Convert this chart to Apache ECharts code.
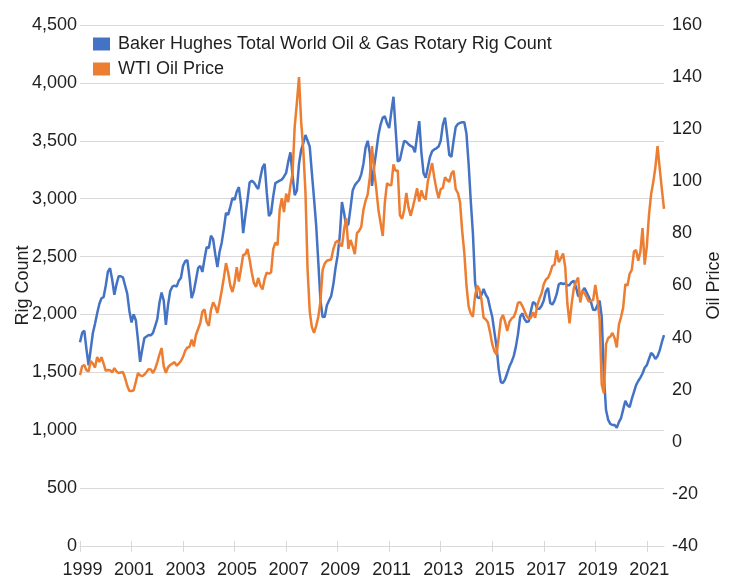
<!DOCTYPE html>
<html>
<head>
<meta charset="utf-8">
<script src="https://cdn.jsdelivr.net/npm/echarts@6/dist/echarts.min.js"></script>
<style>
    html, body { margin: 0; padding: 0; background: #fff; }
    #chart { width: 734px; height: 577px; }
</style>
</head>
<body>
<div id="chart"></div>
<script>
// monthly categories, Jan 1999 .. Sep 2021
const startYear = 1999
const monthCount = 273
const months = []
for (let i = 0; i < monthCount; i++) {
    const y = startYear + Math.floor(i / 12)
    const m = (i % 12) + 1
    months.push(y + "-" + (m < 10 ? "0" + m : m))
}

// Baker Hughes total world rig count (left axis)
const rigCount = [
    1760, 1840, 1860, 1700, 1560, 1700, 1840, 1920, 2010, 2090, 2140, 2150,
    2250, 2370, 2400, 2300, 2170, 2260, 2330, 2330, 2320, 2250, 2180, 2030,
    1930, 2000, 1950, 1780, 1590, 1700, 1796, 1810, 1822, 1820, 1840, 1900,
    1960, 2100, 2190, 2120, 1909, 2080, 2200, 2240, 2250, 2240, 2290, 2315,
    2420, 2460, 2470, 2320, 2140, 2200, 2297, 2400, 2420, 2367, 2480, 2582,
    2574, 2680, 2650, 2520, 2410, 2540, 2620, 2740, 2876, 2860, 2930, 3006,
    2990, 3060, 3100, 2950, 2703, 2850, 2988, 3140, 3155, 3140, 3110, 3083,
    3180, 3270, 3300, 3050, 2850, 2876, 3020, 3135, 3145, 3155, 3165, 3190,
    3222, 3320, 3400, 3200, 3030, 3070, 3300, 3420, 3480, 3550, 3500, 3450,
    3220, 3000, 2770, 2450, 2120, 1978, 1980, 2080, 2120, 2160, 2260, 2400,
    2510, 2680, 2971, 2876, 2760, 2780, 2920, 3070, 3115, 3140, 3161, 3210,
    3300, 3440, 3500, 3390, 3110, 3280, 3410, 3550, 3640, 3700, 3710, 3650,
    3610, 3750, 3880, 3600, 3320, 3334, 3420, 3500, 3490, 3470, 3455, 3446,
    3400, 3540, 3670, 3400, 3220, 3180, 3270, 3360, 3410, 3425, 3435, 3450,
    3500, 3640, 3700, 3550, 3377, 3362, 3500, 3620, 3645, 3655, 3660, 3660,
    3560, 3300, 2980, 2700, 2280, 2150, 2140, 2170, 2220, 2170, 2140, 2056,
    1980, 1850, 1720, 1530, 1416, 1408, 1440, 1494, 1550, 1590, 1640, 1720,
    1830, 1978, 2010, 1960, 1935, 1940, 2030, 2107, 2095, 2050, 2050, 2075,
    2120, 2200, 2230, 2099, 2085, 2120, 2175, 2260, 2270, 2263, 2268, 2250,
    2255, 2280, 2290, 2237, 2160, 2160, 2200, 2228, 2190, 2150, 2107, 2040,
    2038, 2080, 2120, 1980, 1470, 1175, 1090, 1055, 1045, 1045, 1022, 1070,
    1105, 1180, 1255, 1215, 1200, 1270, 1330, 1390, 1425, 1455, 1490, 1540,
    1562, 1615, 1667, 1650, 1615, 1640, 1690, 1760, 1822
]

// WTI oil price (right axis)
const oilPrice = [
    25.6, 29, 29.5, 27.5, 27, 31, 30, 28.5, 32.6, 30.6, 32.5, 30,
    27.2, 27.6, 27.5, 26.6, 28.3, 27, 26.4, 26.6, 26.8, 24.5, 21.5, 19.5,
    19.5, 19.8, 23, 26.4, 25.5, 25.2, 25.8, 26.8, 27.9, 27.8, 26.4, 28,
    30.6, 33.5, 36, 29, 26.5, 28.6, 29.5, 30, 30.6, 29.2, 30, 31,
    32.6, 35, 36.2, 36.4, 39.2, 36.6, 41, 43.3, 45.5, 50, 50.8, 46,
    44.5, 50.6, 53.5, 52, 49.4, 53.6, 58, 63, 68.6, 65, 60, 57.5,
    61, 67, 61.5, 66.5, 71.7, 72, 74, 70, 65, 61, 59.5, 62.9,
    60, 58.5, 62.5, 65, 64.5, 65, 74, 76.5, 75.5, 89, 93.5, 88.2,
    95.3, 92, 98.5, 103, 121, 130, 140, 123, 112, 96, 66, 50,
    44, 41.8, 44.5, 48, 54, 66, 68.5, 69.5, 69.8, 70, 74, 76.5,
    77.2, 76, 75, 81.5, 85.9, 74, 77.5, 75, 72, 80.1, 81, 82.5,
    89, 92.5, 95, 101.6, 113.5, 104, 97, 89, 84, 79, 92, 99.3,
    98.6, 98.5, 106.5, 104, 104.2, 87, 85.6, 89, 95.5, 90, 86.8, 90,
    93.5, 97.3, 92.2, 96.5, 94, 93, 100, 103.5, 107, 101.5, 97, 93.5,
    97, 97.5, 101.6, 100.5, 99.8, 103, 104, 97, 95.5, 92, 81, 72.5,
    60, 52, 49.2, 48, 56, 60, 58.5, 54.5, 47.6, 47, 45.8, 42,
    37.5, 34.8, 33.5, 40, 47, 48.7, 46, 42.5, 46, 47.3, 47.9, 50,
    53.4, 53.6, 52.2, 50.3, 48.3, 47.3, 47.6, 49.8, 47.6, 52.5, 55, 57,
    60.5, 62.3, 63, 64.8, 67.5, 68, 73.5, 69, 70.5, 72.3, 67, 53,
    45.5, 53, 59, 61.5, 63, 53.5, 58, 57, 55.5, 53.8, 54.2, 54.4,
    60.2, 55, 47, 22, 18.7, 37.5, 39.8, 40.4, 41.8, 39.8, 36.2, 45,
    47.9, 51.6, 60.5, 60, 64.5, 66, 73, 73.6, 69.5, 73, 82, 68,
    75, 87, 95, 99.7, 105.5, 113.5, 105, 97, 89.4
]

const fontFamily = "'Liberation Sans', Arial, sans-serif"
const textColor = "#1f1f1f"
const gridColor = "#d9d9d9"

const chart = echarts.init(document.getElementById("chart"), null, {renderer: "canvas"})

const option = {
    animation: false,
    backgroundColor: "#fff",
    textStyle: {fontFamily: fontFamily},
    grid: {
        left: 80,
        right: 70,
        top: 25,
        bottom: 31,
        containLabel: false,
        outerBoundsMode: "none"
    },
    legend: {
        orient: "vertical",
        left: 88,
        top: 30,
        itemWidth: 17,
        itemHeight: 13,
        itemGap: 7,
        icon: "rect",
        textStyle: {
            fontSize: 18,
            color: textColor,
            fontFamily: fontFamily,
            padding: [0, 0, 0, 3]
        },
        data: ["Baker Hughes Total World Oil & Gas Rotary Rig Count", "WTI Oil Price"]
    },
    xAxis: [
        {
            type: "category",
            data: months,
            boundaryGap: false,
            axisLine: {onZero: false, lineStyle: {color: gridColor}},
            axisTick: {
                interval: 23,
                length: 6,
                lineStyle: {color: gridColor}
            },
            axisLabel: {
                interval: 23,
                fontSize: 18,
                color: textColor,
                margin: 15,
                padding: [0, 0, 0, 5],
                formatter: v => v.slice(0, 4)
            }
        },
        {
            // inner half of the crossing tick marks
            type: "category",
            data: months,
            position: "bottom",
            boundaryGap: false,
            axisLine: {show: false, onZero: false},
            axisTick: {
                inside: true,
                interval: 23,
                length: 5,
                lineStyle: {color: gridColor}
            },
            axisLabel: {show: false}
        }
    ],
    yAxis: [
        {
            type: "value",
            name: "Rig Count",
            nameLocation: "middle",
            nameRotate: 90,
            nameGap: 48,
            nameMoveOverlap: false,
            nameTextStyle: {fontSize: 18, color: textColor},
            min: 0,
            max: 4500,
            interval: 500,
            axisLine: {show: false},
            axisTick: {show: false},
            axisLabel: {
                fontSize: 18,
                color: textColor,
                margin: 3,
                formatter: v => v.toLocaleString("en-US")
            },
            splitLine: {lineStyle: {color: gridColor, width: 1}}
        },
        {
            type: "value",
            name: "Oil Price",
            nameLocation: "middle",
            nameRotate: 90,
            nameGap: 41,
            nameMoveOverlap: false,
            nameTextStyle: {fontSize: 18, color: textColor},
            min: -40,
            max: 160,
            interval: 20,
            axisLine: {show: false},
            axisTick: {show: false},
            axisLabel: {
                fontSize: 18,
                color: textColor,
                margin: 8
            },
            splitLine: {show: false}
        }
    ],
    series: [
        {
            name: "Baker Hughes Total World Oil & Gas Rotary Rig Count",
            type: "line",
            yAxisIndex: 0,
            data: rigCount,
            showSymbol: false,
            lineStyle: {color: "#4472C4", width: 2.5},
            itemStyle: {color: "#4472C4"}
        },
        {
            name: "WTI Oil Price",
            type: "line",
            yAxisIndex: 1,
            data: oilPrice,
            showSymbol: false,
            lineStyle: {color: "#ED7D31", width: 2.5},
            itemStyle: {color: "#ED7D31"}
        }
    ]
}

chart.setOption(option)
</script>
</body>
</html>
